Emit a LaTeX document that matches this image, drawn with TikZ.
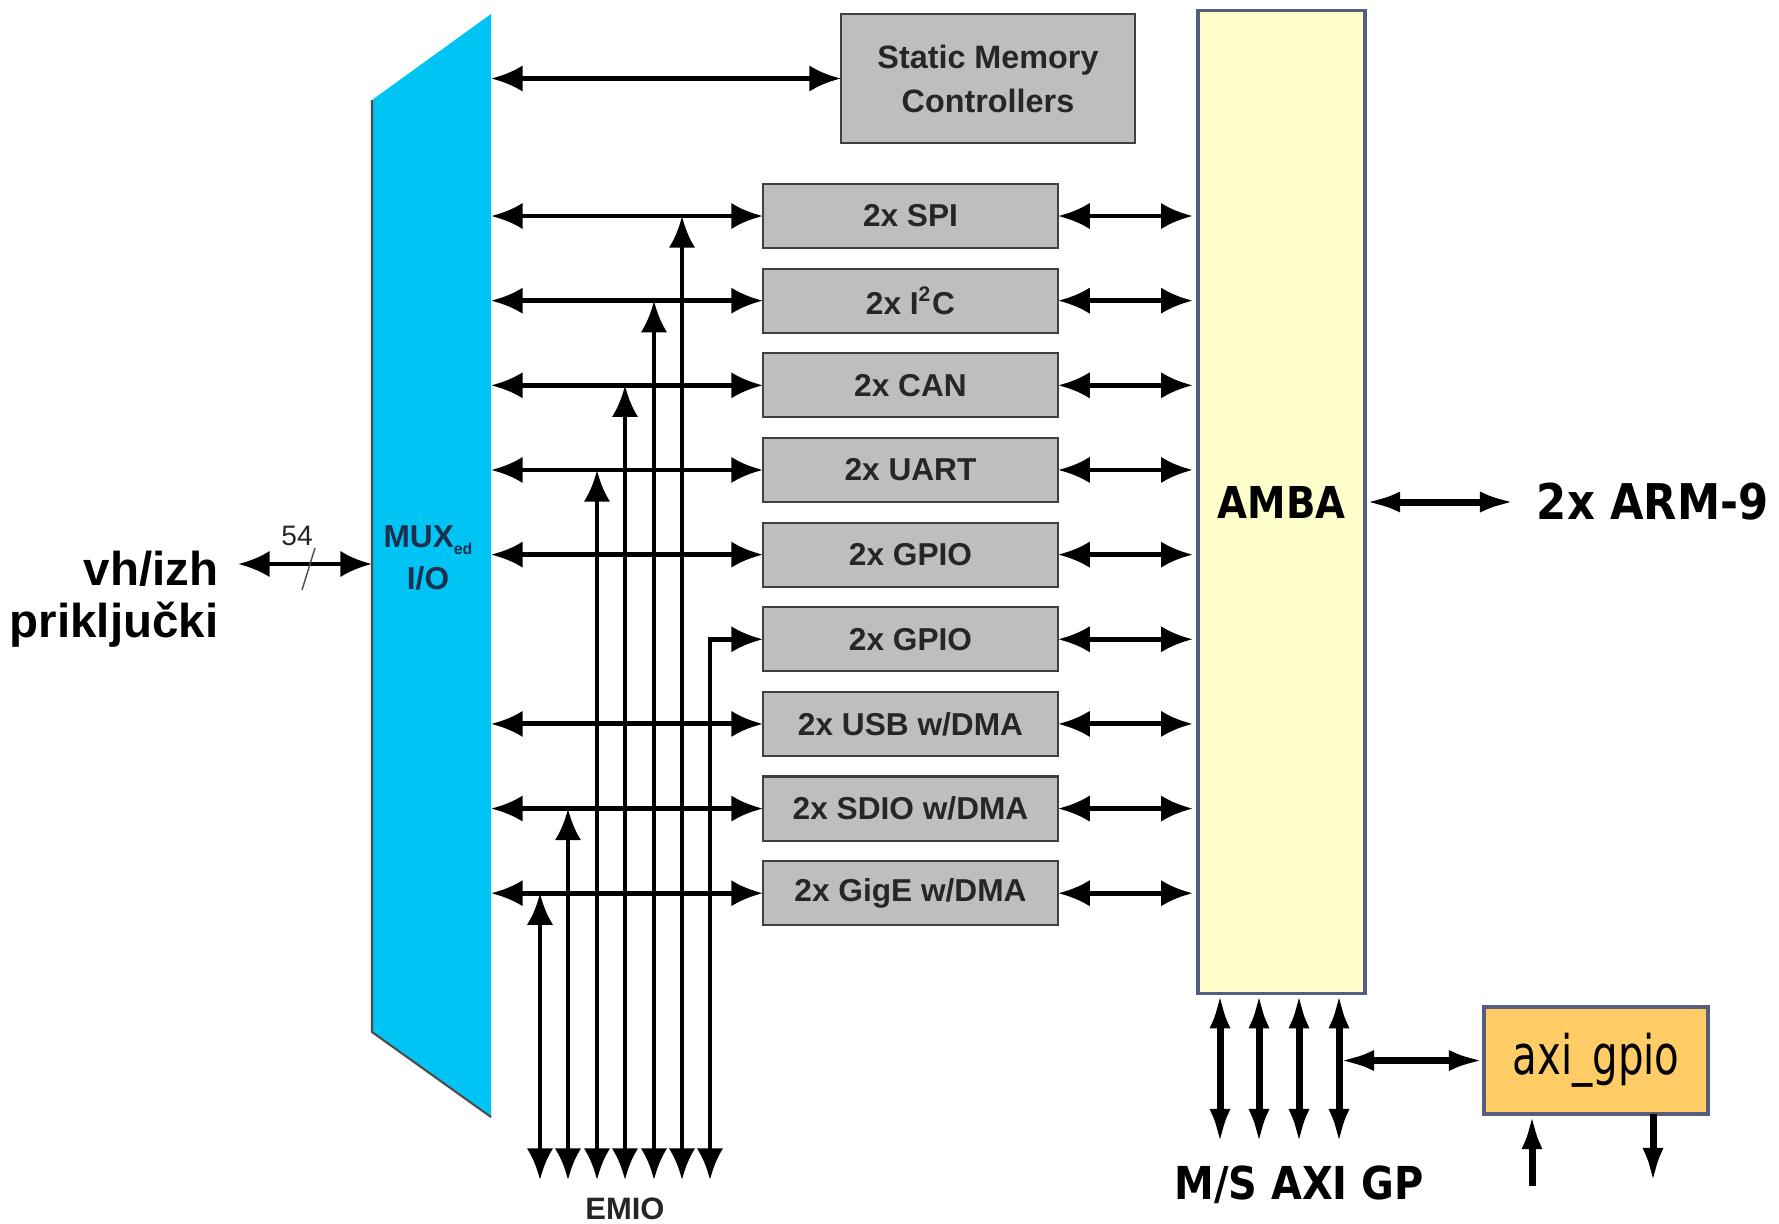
\documentclass[tikz,border=0pt]{standalone}
\usepackage{fontspec}
\setmainfont{Liberation Sans}
\newfontfamily\armfont[FakeStretch=0.88]{DejaVu Sans}
\newfontfamily\gpiofont[FakeStretch=0.74]{DejaVu Sans}
\usepackage{xcolor}
\usepackage{tikz}
\usetikzlibrary{arrows.meta,positioning,calc}
\definecolor{muxblue}{HTML}{00C4F4}
\definecolor{muxtext}{HTML}{1C2F4F}
\definecolor{periphgrey}{HTML}{BEBEBE}
\definecolor{lightyellow}{HTML}{FFFFCC}
\definecolor{slate}{HTML}{565E7E}
\definecolor{gpioorange}{HTML}{FFCC66}

\begin{document}
\begin{tikzpicture}[x=0.01cm,y=-0.01cm,
    periph/.style={draw=black!75,semithick,fill=periphgrey,outer sep=0pt,inner sep=0pt,
                   minimum width=2.95cm,minimum height=0.64cm,text=black!85,
                   font=\fontsize{9}{10}\selectfont\bfseries},
    bus/.style={draw=slate,line width=0.9pt,outer sep=0pt},
    arr/.style={{Latex[length=9pt,width=7.5pt]}-{Latex[length=9pt,width=7.5pt]},line width=1.4pt},
    arrb/.style={{Latex[length=10pt,width=6pt]}-{Latex[length=10pt,width=6pt]},line width=2pt},
    onearr/.style={-{Latex[length=10pt,width=6pt]},line width=2pt}
  ]
    \useasboundingbox (0,0) rectangle (1779,1223);
    % mux
    \fill[muxblue] (372,100) -- (491,14) -- (491,1117) -- (372,1032) -- cycle;
    \draw[black!70,semithick] (372,100) -- (372,1032) -- (491,1117);
    \coordinate (muxr) at (491,564);
    \coordinate (muxl) at (372,564);
    \node[align=center,text=muxtext,font=\fontsize{9}{12}\selectfont\bfseries] (mux) at (428,558)
          {MUX\raisebox{-0.4ex}{\fontsize{4.5}{5}\selectfont ed}\\I/O};
    % pins
    \node[anchor=east,align=right,inner sep=0pt,font=\fontsize{13.5}{14.7}\selectfont\bfseries] (pins)
          at (219,599) {vh/izh\\priključki};
    \coordinate (pinsr) at (238,564);
    \draw[arr] (pinsr) -- (muxl);
    \node[font=\fontsize{8}{9}\selectfont,text=black!85] (width) at (297,536) {54};
    \draw[black!70,thin] (302,590) -- (315,548);
    % static memory
    \node[periph,minimum width=2.94cm,minimum height=1.29cm,align=center,
          font=\fontsize{9.2}{12.5}\selectfont\bfseries] (smc) at (988,78.5) {Static Memory\\Controllers};
    \draw[arr] (muxr |- smc.west) -- (smc.west);
    % peripherals
    \node[periph] (spi) at (910.5,216) {2x SPI};
    \node[periph,below=2.06mm of spi] (iic) {2x I\textsuperscript{2}C};
    \node[periph,below=2.06mm of iic] (can) {2x CAN};
    \node[periph,below=2.06mm of can] (uart) {2x UART};
    \node[periph,below=2.06mm of uart] (gpioa) {2x GPIO};
    \node[periph,below=2.06mm of gpioa] (gpiob) {2x GPIO};
    \node[periph,below=2.06mm of gpiob] (usb) {2x USB w/DMA};
    \node[periph,below=2.06mm of usb] (sdio) {2x SDIO w/DMA};
    \node[periph,below=2.06mm of sdio] (gige) {2x GigE w/DMA};
    % amba
    \node[bus,fill=lightyellow,minimum width=1.67cm,minimum height=9.82cm,
          font=\armfont\fontsize{12.5}{14}\selectfont\bfseries] (amba) at (1281.5,502) {AMBA};
    \foreach \p in {spi,iic,can,uart,gpioa,usb,sdio,gige}
      \draw[arr] (muxr |- \p.west) -- (\p.west);
    \foreach \p in {spi,iic,can,uart,gpioa,gpiob,usb,sdio,gige}
      \draw[arr,shorten >=1.5pt] (\p.east) -- (\p.east -| amba.west);
    % emio
    \foreach \i/\x/\p in {1/540/gige,2/568/sdio,3/597/uart,4/625/can,5/654/iic,6/682/spi} {
      \coordinate (e\i) at (\x,1180);
      \draw[arr] (e\i) -- (e\i |- \p.west);
    }
    \coordinate (e7) at (710,1180);
    \draw[arr] (e7) -- (e7 |- gpiob.west) -- (gpiob.west);
    \node[font=\fontsize{8.8}{10}\selectfont\bfseries,text=black!85,anchor=base] (emio) at (625,1219) {EMIO};
    % arm
    \node[right=1.5cm of amba,inner sep=6pt,font=\armfont\fontsize{14}{16}\selectfont\bfseries] (arm) {2x ARM-9};
    \draw[arrb] (amba.east) -- (arm.west);
    % axi gp
    \foreach \i/\x in {1/1220,2/1259,3/1299,4/1339} {
      \coordinate (gp\i) at (\x,1144);
      \draw[arrb] (amba.south -| gp\i) -- (gp\i);
    }
    \node[font=\armfont\fontsize{12.9}{14}\selectfont\bfseries,anchor=base] (gplbl) at (1299,1199) {M/S AXI GP};
    % axi_gpio
    \node[bus,line width=1pt,fill=gpioorange,minimum width=2.24cm,minimum height=1.07cm,
          font=\gpiofont\fontsize{15.5}{17}\selectfont] (axi) at (1596,1060.5) {axi\_gpio};
    \draw[arrb] (gp4 |- axi.west) -- (axi.west);
    \coordinate (gin) at (1532,1186);
    \coordinate (gout) at (1653,1183);
    \draw[onearr] (gin) -- (gin |- axi.south);
    \draw[onearr] (gout |- axi.south) -- (gout);
\end{tikzpicture}
\end{document}
